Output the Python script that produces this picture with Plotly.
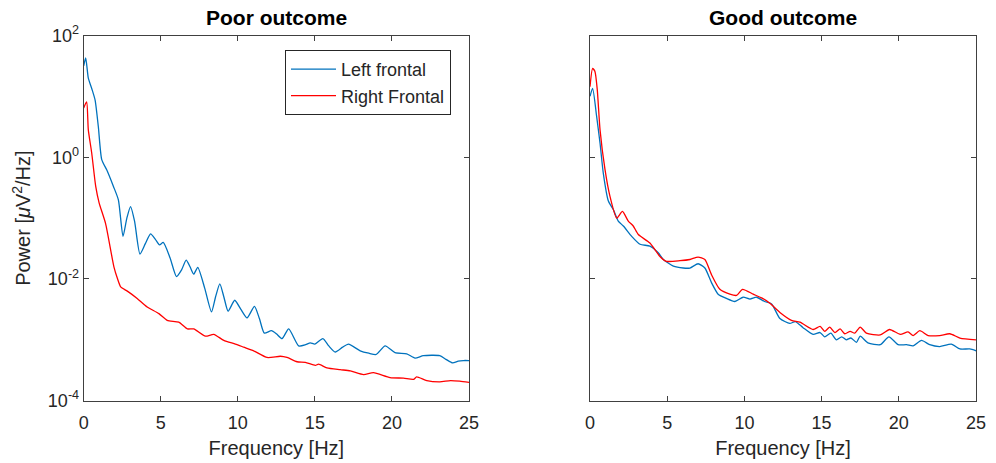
import numpy as np
import plotly.graph_objects as go

# ---- data (frequency in Hz, power as log10 of uV^2/Hz) ----
poor_left_f = [0, 0.13, 0.3, 0.52, 0.74, 0.95, 1.17, 1.5, 1.93, 2.25,
               2.55, 2.8, 3.04, 3.3, 3.65, 4.0, 4.34, 4.65, 4.92, 5.16,
               5.6, 6.02, 6.35, 6.65, 6.9, 7.14, 7.4, 7.85, 8.29, 8.55,
               8.83, 9.1, 9.37, 9.8, 10.2, 10.6, 11.08, 11.4, 11.72, 12.18,
               12.5, 12.87, 13.3, 13.95, 14.4, 14.7, 15.0, 15.52, 15.9, 16.32,
               16.8, 17.18, 17.94, 18.5, 18.98, 19.56, 20.2, 20.96, 21.5, 22.04,
               23.1, 23.5, 23.94, 24.3, 24.63, 25]
poor_left_log = [1.50, 1.63, 1.3, 1.13, 0.94, 0.5, -0.04, -0.21, -0.48, -0.70,
                 -1.30, -1.0, -0.81, -1.05, -1.59, -1.42, -1.26, -1.35, -1.44, -1.40,
                 -1.65, -1.96, -1.85, -1.69, -1.80, -1.92, -1.81, -2.15, -2.54, -2.3,
                 -2.08, -2.3, -2.53, -2.35, -2.5, -2.64, -2.45, -2.65, -2.89, -2.85,
                 -2.90, -2.98, -2.82, -3.10, -3.08, -3.05, -3.07, -2.98, -3.10, -3.20,
                 -3.12, -3.07, -3.18, -3.22, -3.24, -3.10, -3.21, -3.23, -3.30, -3.26,
                 -3.26, -3.32, -3.38, -3.35, -3.34, -3.34]

poor_right_f = [0, 0.19, 0.3, 0.52, 0.78, 1.0, 1.42, 1.96, 2.2, 2.4,
                2.83, 3.47, 4.12, 4.88, 5.42, 6.17, 6.72, 7.14, 7.9, 8.44,
                9.09, 9.84, 10.38, 11.03, 11.9, 12.76, 13.19, 13.84, 14.38, 15.03,
                15.24, 15.78, 16.64, 17.3, 18.16, 18.8, 19.88, 20.75, 21.4, 21.6,
                22.26, 23.1, 23.8, 24.4, 25]
poor_right_log = [0.81, 0.91, 0.45, 0.07, -0.48, -0.75, -1.09, -1.80, -2.0, -2.13,
                  -2.20, -2.32, -2.46, -2.57, -2.68, -2.71, -2.82, -2.82, -2.94, -2.91,
                  -3.01, -3.07, -3.12, -3.18, -3.29, -3.27, -3.29, -3.36, -3.37, -3.42,
                  -3.40, -3.46, -3.49, -3.51, -3.57, -3.54, -3.62, -3.63, -3.65, -3.61,
                  -3.67, -3.69, -3.67, -3.68, -3.70]

good_left_f = [0, 0.17, 0.43, 0.65, 0.86, 1.19, 1.51, 1.83, 2.16, 2.7,
               3.24, 3.88, 4.42, 4.75, 5.4, 6.04, 6.47, 7.0, 7.44, 7.87,
               8.30, 8.84, 9.38, 9.92, 10.36, 10.79, 11.3, 11.76, 12.3, 12.94,
               13.3, 13.8, 14.45, 14.9, 15.2, 15.6, 15.96, 16.3, 16.6, 16.9,
               17.26, 17.5, 18.0, 18.8, 19.36, 19.96, 20.5, 20.93, 21.47, 22.0,
               22.65, 23.4, 23.96, 24.6, 25]
good_left_log = [1.0, 1.13, 0.67, 0.23, -0.26, -0.72, -0.86, -1.05, -1.13, -1.30,
                 -1.43, -1.46, -1.57, -1.68, -1.79, -1.82, -1.82, -1.75, -1.82, -2.06,
                 -2.25, -2.32, -2.37, -2.30, -2.33, -2.30, -2.37, -2.41, -2.65, -2.73,
                 -2.70, -2.80, -2.91, -2.88, -2.95, -2.89, -3.0, -2.95, -3.0, -2.97,
                 -3.04, -2.94, -3.05, -3.08, -2.95, -3.08, -3.08, -3.10, -3.01, -3.08,
                 -3.11, -3.07, -3.15, -3.15, -3.18]

good_right_f = [0, 0.17, 0.32, 0.47, 0.65, 0.97, 1.29, 1.73, 2.1, 2.48,
                2.8, 3.13, 3.88, 4.53, 4.96, 5.83, 6.47, 7.0, 7.44, 7.87,
                8.41, 9.06, 9.49, 9.88, 10.57, 11.11, 11.65, 12.3, 13.05, 13.6,
                14.45, 14.9, 15.2, 15.53, 15.86, 16.2, 16.5, 16.85, 17.15, 17.5,
                17.9, 18.8, 19.4, 20.1, 20.6, 20.93, 21.36, 21.9, 22.65, 23.3,
                23.96, 25]
good_right_log = [1.16, 1.46, 1.41, 1.11, 0.45, -0.20, -0.64, -1.0, -0.89, -1.05,
                  -1.13, -1.27, -1.41, -1.63, -1.71, -1.70, -1.68, -1.64, -1.68, -1.93,
                  -2.17, -2.25, -2.27, -2.17, -2.25, -2.31, -2.40, -2.55, -2.68, -2.71,
                  -2.83, -2.78, -2.86, -2.79, -2.88, -2.82, -2.90, -2.86, -2.89, -2.79,
                  -2.89, -2.92, -2.83, -2.91, -2.87, -2.93, -2.85, -2.93, -2.93, -2.90,
                  -2.97, -3.0]

series_names = ["Left frontal", "Right Frontal"]
panel_titles = ["Poor outcome", "Good outcome"]
x_ticks = [0, 5, 10, 15, 20, 25]
y_tickvals = [1e-4, 1e-2, 1e0, 1e2]
y_ticktext = ["10<sup>-4</sup>", "10<sup>-2</sup>", "10<sup>0</sup>", "10<sup>2</sup>"]

BLUE = "#0072BD"
RED = "#FF0000"
TXT = "#262626"
FONT = "Liberation Sans, Arial, sans-serif"

W, H = 996, 463
xdom1 = [83.7 / W, 469 / W]
xdom2 = [590 / W, 976 / W]
ydom = [1 - 400.7 / H, 1 - 35.5 / H]

fig = go.Figure()
panels = [
    ("x", "y", poor_left_f, poor_left_log, poor_right_f, poor_right_log, True),
    ("x2", "y2", good_left_f, good_left_log, good_right_f, good_right_log, False),
]
for xa, ya, lf, ll, rf, rl, show in panels:
    fig.add_trace(go.Scatter(x=lf, y=np.power(10.0, ll), mode="lines", name=series_names[0],
                             line=dict(color=BLUE, width=1.3, shape="spline", smoothing=0.6),
                             xaxis=xa, yaxis=ya, showlegend=show))
    fig.add_trace(go.Scatter(x=rf, y=np.power(10.0, rl), mode="lines", name=series_names[1],
                             line=dict(color=RED, width=1.3, shape="spline", smoothing=0.6),
                             xaxis=xa, yaxis=ya, showlegend=show))

axis_common = dict(showline=True, linecolor="#404040", linewidth=1, mirror="allticks",
                   ticks="inside", ticklen=5, tickcolor="#404040", showgrid=False, zeroline=False,
                   automargin=False,
                   tickfont=dict(family=FONT, size=18, color=TXT))

xcommon = dict(axis_common, range=[0, 25], tickvals=x_ticks, ticklabelstandoff=6,
               title=dict(text="Frequency [Hz]", font=dict(family=FONT, size=20, color=TXT), standoff=8))
ycommon = dict(axis_common, type="log", range=[-4, 2], tickvals=y_tickvals)

fig.update_layout(
    width=W, height=H, autosize=False,
    margin=dict(l=0, r=0, t=0, b=0),
    paper_bgcolor="white", plot_bgcolor="white",
    font=dict(family=FONT, color=TXT),
    xaxis=dict(xcommon, domain=xdom1, anchor="y"),
    xaxis2=dict(xcommon, domain=xdom2, anchor="y2"),
    yaxis=dict(ycommon, domain=ydom, anchor="x", ticktext=y_ticktext,
               title=dict(text="Power [<i>\u03bc</i>V<sup>2</sup>/Hz]",
                          font=dict(family=FONT, size=20, color=TXT), standoff=11)),
    yaxis2=dict(ycommon, domain=ydom, anchor="x2", showticklabels=False),
    legend=dict(x=285 / W, y=1 - 50 / H, xanchor="left", yanchor="top",
                bordercolor="#262626", borderwidth=1, bgcolor="white",
                font=dict(family=FONT, size=18, color=TXT), itemwidth=45,
                tracegroupgap=0),
    showlegend=True,
)

for i, t in enumerate(panel_titles):
    dom = xdom1 if i == 0 else xdom2
    fig.add_annotation(text="<b>" + t + "</b>", x=(dom[0] + dom[1]) / 2, y=1 - 17.5 / H,
                       xref="paper", yref="paper", xanchor="center", yanchor="middle",
                       showarrow=False, font=dict(family=FONT, size=21, color="black"))

fig.write_html("out.html")
